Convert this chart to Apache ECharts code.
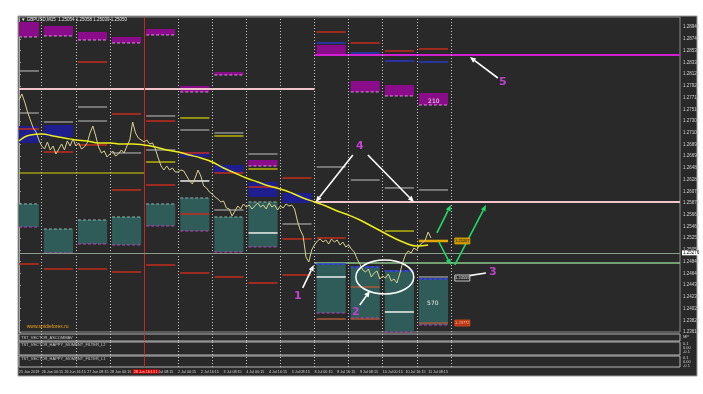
<!DOCTYPE html>
<html><head><meta charset="utf-8">
<script src="https://cdn.jsdelivr.net/npm/echarts/dist/echarts.min.js"></script>
<style>html,body{margin:0;padding:0;background:#fff;}#c{width:703px;height:394px;}</style>
</head><body><div id="c"></div>
<script>
// ---------------- DATA ----------------
// time axis: hours of trading time from 25 Jun 08:15; one label every 16 h
const timeLabels = ['25 Jun 2019','26 Jun 00:15','26 Jun 16:15','27 Jun 08:15','28 Jun 00:15','28 Jun 16:15','1 Jul 08:15','2 Jul 00:15','2 Jul 16:15','3 Jul 08:15','4 Jul 00:15','4 Jul 16:15','5 Jul 08:15','8 Jul 00:15','8 Jul 16:15','9 Jul 08:15','10 Jul 00:15','10 Jul 16:15','11 Jul 08:15'];
const highlightedLabel = 5;
const dayCount = 13;        // day separators: 26 Jun ... 12 Jul
const weekStartDay = 3;     // 1 Jul
// price closes, sampled every 2 hours
const priceStep = 2;
const priceCloses = [1.27673,1.27778,1.27638,1.27463,1.27323,1.27183,1.27113,1.26973,1.26868,1.26816,
1.26938,1.26798,1.26868,1.26728,1.26816,1.26903,1.26798,1.26956,1.26868,1.26991,
1.26868,1.26921,1.26816,1.26851,1.26921,1.27096,1.27218,1.27043,1.26851,1.26746,
1.26781,1.26676,1.26728,1.26781,1.26693,1.26728,1.26798,1.26746,1.26868,1.26973,
1.27288,1.27096,1.27008,1.26973,1.26938,1.26973,1.26903,1.26921,1.26816,1.26658,
1.26518,1.26448,1.26518,1.26448,1.26483,1.26413,1.26413,1.26448,1.26431,1.26343,
1.26256,1.26204,1.26308,1.26448,1.26343,1.26169,1.26134,1.26064,1.26029,1.25976,
1.25941,1.25889,1.25906,1.25784,1.25766,1.25644,1.25731,1.25819,1.25766,1.25854,
1.25801,1.25836,1.25766,1.25819,1.25871,1.25801,1.25836,1.25766,1.25871,1.25801,
1.25836,1.25749,1.25819,1.25784,1.25854,1.25819,1.25836,1.25766,1.25556,1.25399,
1.25294,1.24927,1.24839,1.25049,1.25137,1.25207,1.25242,1.25189,1.25224,1.25154,
1.25242,1.25189,1.25224,1.25137,1.25189,1.25102,1.25137,1.25067,1.25014,1.24892,
1.24804,1.24699,1.24664,1.24717,1.24577,1.24647,1.24682,1.24542,1.24594,1.24559,
1.24629,1.24507,1.24542,1.24472,1.24629,1.24822,1.24962,1.25032,1.24997,1.25084,
1.25049,1.25137,1.25172,1.25224,1.25364,1.25259];
// moving average, sampled every 8 hours
const maStep = 8;
const maValues = [1.26956,1.27061,1.27078,1.27043,1.27008,1.26973,1.26956,1.26921,1.26921,1.26903,
1.26903,1.26886,1.26851,1.26798,1.26763,1.26711,1.26658,1.26588,1.26483,1.26396,
1.26308,1.26239,1.26169,1.26116,1.26046,1.25959,1.25889,1.25819,1.25731,1.25661,
1.25574,1.25469,1.25364,1.25259,1.25172,1.25119,1.25137];
// daily zones: [dayIndex, top, bottom]
const magentaBoxes = [[-1,1.29037,1.28775],[0,1.28967,1.28792],[1,1.28862,1.28722],[2,1.28775,1.28670],[3,1.28914,1.28810],[4,1.27918,1.27813],[5,1.28162,1.28110],[6,1.26623,1.26518],[8,1.28635,1.28460],[9,1.28005,1.27813],[10,1.27935,1.27743],[11,1.27795,1.27585]];
const blueBoxes = [[-1,1.27218,1.26921],[0,1.27235,1.27026],[4,1.26763,1.26676],[5,1.26536,1.26396],[6,1.26238,1.25976],[7,1.26046,1.25871]];
const tealBoxes = [[-1,1.25854,1.25451],[0,1.25416,1.24997],[1,1.25574,1.25154],[2,1.25626,1.25137],[3,1.25854,1.25469],[4,1.25959,1.25381],[5,1.25626,1.25014],[6,1.25889,1.25102],[8,1.24804,1.23947],[9,1.24752,1.23860],[10,1.24682,1.23615],[11,1.24542,1.23737]];
// daily levels: [dayIndex, price]
const grayLevels = [[-1,1.28180],[-1,1.27445],[0,1.27288],[1,1.27550],[1,1.27305],[2,1.26746],[3,1.27393],[3,1.26798],[4,1.27148],[5,1.27096],[5,1.25749],[6,1.26728],[7,1.25504],[8,1.26501],[9,1.26273],[10,1.26134],[11,1.26099],[11,1.24577]];
const whiteLevels = [[4,1.26256],[6,1.25347],[8,1.24577],[10,1.23965]];
const redLevels = [[-1,1.27165],[-1,1.24804],[0,1.26763],[0,1.24717],[1,1.28337],[1,1.26886],[1,1.24717],[2,1.27428],[2,1.26099],[2,1.24664],[3,1.27305],[3,1.26186],[3,1.24787],[4,1.26746],[4,1.25679],[4,1.24647],[5,1.26396],[5,1.24577],[6,1.26151],[6,1.24472],[7,1.26308],[7,1.25242],[7,1.24612],[8,1.28862],[8,1.25259],[9,1.28670],[10,1.28530],[11,1.28565]];
const brownLevels = [[8,1.23842],[9,1.24402],[9,1.23842],[11,1.23772]];
const yellowLevels = [[3,1.26588],[4,1.27358],[5,1.27043],[6,1.26466],[10,1.25381]];
const orangeLevels = [[11,1.25207]];
const blueLevels = [[8,1.28670],[9,1.28495],[10,1.28355],[11,1.28337],[8,1.24804],[9,1.24752],[10,1.24682],[11,1.24542]];
// long horizontal levels: [fromHour, toHour, price]
const pinkLines = [[0,208,1.27865],[208,465.3,1.25889]];
const magentaLines = [[208,465.3,1.28460]];
const greenLines = [[208,465.3,1.24822]];
const yellowLines = [[0,88,1.26396]];
const bidPrice = 1.25276;
// annotations: arrows [h0,p0,h1,p1]
const whiteArrows = [[235.0,1.26711,208.9,1.25889],[245.6,1.26711,278.0,1.25889],[337.1,1.28057,317.4,1.28425],[199.7,1.24385,207.5,1.24787],[239.9,1.24087,247.0,1.24332],[328.7,1.24647,306.1,1.24559]];
const greenArrows = [[294.2,1.25347,304.0,1.25836],[295.6,1.25189,304.0,1.24787],[306.8,1.24787,328.7,1.25836]];
const markNumbers = ['4','5','1','2','3'];
const markPositions = [[239.9,1.26868],[340.6,1.27988],[196.3,1.24245],[237.1,1.23965],[333.6,1.24664]];
const ellipseMark = [[257.5,1.24577,20.4,0.00297]];
const boxTexts = ['210','570'];
const boxTextPositions = [[292.0,1.27655],[291.3,1.24122]];
const tagTexts = ['1.25207','1.24559','1.23772'];
const tagPositions = [[306.8,1.25207],[306.8,1.24559],[306.8,1.23772]];
const siteText = 'www.spidieforex.ru';
const sitePosition = [[5.4,1.23702]];
const titleText = '\u25BC GBPUSD,M15  1.25054 1.25058 1.25039 1.25050';
const panelNames = ['TST_VECTOR_ASCOMMAV','TST_VECTOR_HAPPY_MOMENT_FILTER_L2','TST_VECTOR_HAPPY_MOMENT_FILTER_L1'];

// ---------------- CHART ----------------
const X_MAX = 465.3, Y_MIN = 1.23615, Y_MAX = 1.29124, Y_STEP = 0.00205;
const FONT = '"DejaVu Sans", sans-serif';
const NARROW = '"Liberation Sans Narrow", "Liberation Sans", sans-serif';
const dayStart = d => 16 + 24 * d;
function span(d){ const s = dayStart(d); return [Math.max(s + 1.5, 0), s + 22]; }

function boxSeries(data, fill, topDash, botDash){
  return {type:'custom', xAxisIndex:0, yAxisIndex:0, z:2, silent:true, animation:false, data,
    encode:{x:0, y:[1,2]},
    renderItem(params, api){
      const d = api.value(0), t = api.value(1), b = api.value(2);
      const [h0,h1] = span(d);
      const p0 = api.coord([h0,t]), p1 = api.coord([h1,b]);
      const ch = [{type:'rect', shape:{x:p0[0], y:p0[1], width:p1[0]-p0[0], height:p1[1]-p0[1]}, style:{fill}}];
      if (topDash) ch.push({type:'line', shape:{x1:p0[0],y1:p0[1],x2:p1[0],y2:p0[1]}, style:{stroke:topDash, lineWidth:1, lineDash:[3,2]}});
      if (botDash) ch.push({type:'line', shape:{x1:p0[0],y1:p1[1],x2:p1[0],y2:p1[1]}, style:{stroke:botDash, lineWidth:1, lineDash:[3,2]}});
      return {type:'group', children:ch};
    }};
}
function levelSeries(data, color, width, z){
  return {type:'custom', xAxisIndex:0, yAxisIndex:0, z:z||3, silent:true, animation:false, data,
    encode:{x:0, y:1},
    renderItem(params, api){
      const [h0,h1] = span(api.value(0)); const p = api.value(1);
      const a = api.coord([h0,p]), b = api.coord([h1,p]);
      return {type:'line', shape:{x1:a[0],y1:a[1],x2:b[0],y2:b[1]}, style:{stroke:color, lineWidth:width}};
    }};
}
function longLineSeries(data, color, width){
  return {type:'custom', xAxisIndex:0, yAxisIndex:0, z:3, silent:true, animation:false, data,
    encode:{x:[0,1], y:2},
    renderItem(params, api){
      const a = api.coord([api.value(0), api.value(2)]), b = api.coord([api.value(1), api.value(2)]);
      return {type:'line', shape:{x1:a[0],y1:a[1],x2:b[0],y2:b[1]}, style:{stroke:color, lineWidth:width}};
    }};
}
function arrowSeries(data, color){
  return {type:'custom', xAxisIndex:0, yAxisIndex:0, z:10, silent:true, animation:false, data,
    encode:{x:[0,2], y:[1,3]},
    renderItem(params, api){
      const a = api.coord([api.value(0), api.value(1)]), b = api.coord([api.value(2), api.value(3)]);
      const ang = Math.atan2(b[1]-a[1], b[0]-a[0]), L = 6, W = 2.6;
      const c = Math.cos(ang), s = Math.sin(ang);
      const base = [b[0]-L*c, b[1]-L*s];
      return {type:'group', children:[
        {type:'line', shape:{x1:a[0],y1:a[1],x2:base[0],y2:base[1]}, style:{stroke:color, lineWidth:1.6}},
        {type:'polygon', shape:{points:[b,[base[0]+W*s, base[1]-W*c],[base[0]-W*s, base[1]+W*c]]}, style:{fill:color}}
      ]};
    }};
}
function textSeries(positions, texts, color, font, align, z){
  return {type:'custom', xAxisIndex:0, yAxisIndex:0, z:z||11, silent:true, animation:false, data:positions,
    encode:{x:0, y:1},
    renderItem(params, api){
      const p = api.coord([api.value(0), api.value(1)]);
      return {type:'text', style:{text:texts[params.dataIndex], x:p[0], y:p[1], fill:color, font, align:align||'center', verticalAlign:'middle'}};
    }};
}
const tagStyles = [{fill:'#c89000', stroke:'#e0b000', text:'#1a1a1a'},{fill:'#2a2a2a', stroke:'#e8e8e8', text:'#e8e8e8'},{fill:'#b83010', stroke:'#e05020', text:'#f8d0b0'}];
const tagSeries = {type:'custom', xAxisIndex:0, yAxisIndex:0, z:12, silent:true, animation:false, data:tagPositions,
  encode:{x:0, y:1},
  renderItem(params, api){
    const p = api.coord([api.value(0), api.value(1)]); const st = tagStyles[params.dataIndex];
    return {type:'group', children:[
      {type:'rect', shape:{x:p[0], y:p[1]-3, width:15, height:6}, style:{fill:st.fill, stroke:st.stroke, lineWidth:0.8}},
      {type:'text', style:{text:tagTexts[params.dataIndex], x:p[0]+7.5, y:p[1], fill:st.text, font:'4px '+NARROW, align:'center', verticalAlign:'middle'}}
    ]};
  }};
const ellipseSeries = {type:'custom', xAxisIndex:0, yAxisIndex:0, z:10, silent:true, animation:false, data:ellipseMark,
  encode:{x:0, y:1},
  renderItem(params, api){
    const c = api.coord([api.value(0), api.value(1)]);
    const e = api.coord([api.value(0)+api.value(2), api.value(1)+api.value(3)]);
    return {type:'ellipse', shape:{cx:c[0], cy:c[1], rx:e[0]-c[0], ry:c[1]-e[1]}, style:{fill:null, stroke:'#ffffff', lineWidth:1.5}};
  }};

const priceData = priceCloses.map((v,i) => [i*priceStep, v]);
const maData = maValues.map((v,i) => [i*maStep, v]);
const sepData = [];
for (let d = 0; d < dayCount; d++) {
  const item = {xAxis: dayStart(d)};
  if (d === weekStartDay) item.lineStyle = {color:'#c02a20', type:'solid', width:1};
  sepData.push(item);
}
const sepMark = {symbol:['none','none'], silent:true, animation:false, label:{show:false},
  lineStyle:{color:'#c8c8c8', type:[1,2], width:1}, data:sepData};
function sepSeries(idx){
  return {type:'line', xAxisIndex:idx, yAxisIndex:idx, z:1, data:[[0,0]], showSymbol:false, lineStyle:{opacity:0}, silent:true, animation:false, markLine:sepMark};
}

const panels = [{top:334,height:7},{top:342,height:13},{top:356,height:11}];
const grids = [{left:19, right:23, top:17, height:315, show:true, borderColor:'#8a8a8a', borderWidth:1}]
  .concat(panels.map(p => ({left:19, right:23, top:p.top, height:p.height, show:true, borderColor:'#b4b4b4', borderWidth:1})));

const xAxes = [0,1,2,3].map(i => ({
  type:'value', gridIndex:i, min:0, max:X_MAX, interval:16,
  axisLine:{show:false}, splitLine:{show:false}, axisTick:{show:false},
  axisLabel: i < 3 ? {show:false} : {
    show:true, showMinLabel:true, showMaxLabel:false, hideOverlap:false, fontSize:3.7, color:'#d0d0d0', fontFamily:NARROW, margin:2.5, align:'left',
    formatter: v => { const k = Math.round(v/16); if (Math.abs(v-k*16) > 1e-6 || k >= timeLabels.length) return ''; return k === highlightedLabel ? '{hl|'+timeLabels[k]+'}' : timeLabels[k]; },
    rich:{hl:{backgroundColor:'#e00000', color:'#ffd0d0', fontSize:3.7, fontFamily:NARROW, padding:[0,4,0,1]}}
  }
}));
const yAxes = [{
  type:'value', gridIndex:0, position:'right', min:Y_MIN, max:Y_MAX, interval:Y_STEP,
  axisLine:{show:true, lineStyle:{color:'#a0a0a0'}}, axisTick:{show:true, length:2, lineStyle:{color:'#a0a0a0'}},
  splitLine:{show:false},
  axisLabel:{show:true, showMinLabel:true, showMaxLabel:false, hideOverlap:false, fontSize:4.5, color:'#d0d0d0', fontFamily:NARROW, margin:3, formatter: v => v.toFixed(5)}
}].concat([1,2,3].map(i => ({type:'value', gridIndex:i, min:-1, max:1, show:false})));

const series = [
  sepSeries(0), sepSeries(1), sepSeries(2), sepSeries(3),
  boxSeries(magentaBoxes, '#8a0c8a', null, '#e090e0'),
  boxSeries(blueBoxes, '#1e1e8e', null, null),
  boxSeries(tealBoxes, '#2f5c58', '#8cb8b2', '#c040c0'),
  longLineSeries(pinkLines, '#f2c4cc', 2),
  longLineSeries(magentaLines, '#d020d0', 2),
  longLineSeries(greenLines, '#8cc88c', 1.5),
  longLineSeries(yellowLines, '#d4d400', 1.2),
  levelSeries(grayLevels, '#a8a8a8', 1.2),
  levelSeries(whiteLevels, '#eeeeee', 1.5),
  levelSeries(redLevels, '#c42c1c', 1.5),
  levelSeries(brownLevels, '#a85838', 1.5),
  levelSeries(yellowLevels, '#d8d800', 1.2),
  levelSeries(orangeLevels, '#e0a800', 2.5),
  levelSeries(blueLevels, '#2838c8', 1.5),
  {type:'line', xAxisIndex:0, yAxisIndex:0, z:5, data:priceData, showSymbol:false, silent:true, animation:false,
   lineStyle:{color:'#d8d08e', width:1},
   markLine:{symbol:['none','none'], silent:true, animation:false,
     lineStyle:{color:'#8c9c8c', type:'solid', width:1},
     label:{show:true, position:'end', distance:2, formatter: () => bidPrice.toFixed(5), backgroundColor:'#ffffff', color:'#000000', fontSize:4.5, fontFamily:NARROW, padding:[0,1]},
     data:[{yAxis:bidPrice}]}},
  {type:'line', xAxisIndex:0, yAxisIndex:0, z:6, data:maData, smooth:true, showSymbol:false, silent:true, animation:false,
   lineStyle:{color:'#ecec1c', width:1.5}},
  ellipseSeries,
  arrowSeries(whiteArrows, '#ffffff'),
  arrowSeries(greenArrows, '#22d866'),
  textSeries(markPositions, markNumbers, '#c040d0', 'bold 11px '+FONT),
  textSeries(boxTextPositions, boxTexts, '#e8e8e8', '6px '+FONT),
  textSeries(sitePosition, [siteText], '#e8a020', '5px '+NARROW, 'left'),
  tagSeries
];

const graphic = {elements:[
  {type:'rect', z:-10, shape:{x:18, y:16, width:679, height:360}, style:{fill:'#292929', stroke:'#9a9a9a', lineWidth:1}},
  {type:'text', z:50, style:{text:titleText, x:21, y:19.5, fill:'#e8e8e8', font:'4.5px '+NARROW, verticalAlign:'middle'}},
  {type:'text', z:50, style:{text:panelNames[0], x:21, y:337.5, fill:'#c8c8c8', font:'4px '+NARROW, verticalAlign:'middle'}},
  {type:'text', z:50, style:{text:panelNames[1], x:21, y:345, fill:'#c8c8c8', font:'4px '+NARROW, verticalAlign:'middle'}},
  {type:'text', z:50, style:{text:panelNames[2], x:21, y:359, fill:'#c8c8c8', font:'4px '+NARROW, verticalAlign:'middle'}},
  {type:'text', z:50, style:{text:'MP', x:683, y:337, fill:'#d0d0d0', font:'4px '+NARROW, verticalAlign:'middle'}},
  {type:'text', z:50, style:{text:'0.1\n0.00\n-0.1', x:683, y:348, fill:'#d0d0d0', font:'4px '+NARROW, verticalAlign:'middle', lineHeight:4}},
  {type:'text', z:50, style:{text:'0.1\n0.00\n-0.1', x:683, y:362, fill:'#d0d0d0', font:'4px '+NARROW, verticalAlign:'middle', lineHeight:4}}
]};

const chart = echarts.init(document.getElementById('c'), null, {renderer:'canvas'});
chart.setOption({backgroundColor:'#ffffff', animation:false, grid:grids, xAxis:xAxes, yAxis:yAxes, series, graphic});
</script></body></html>
